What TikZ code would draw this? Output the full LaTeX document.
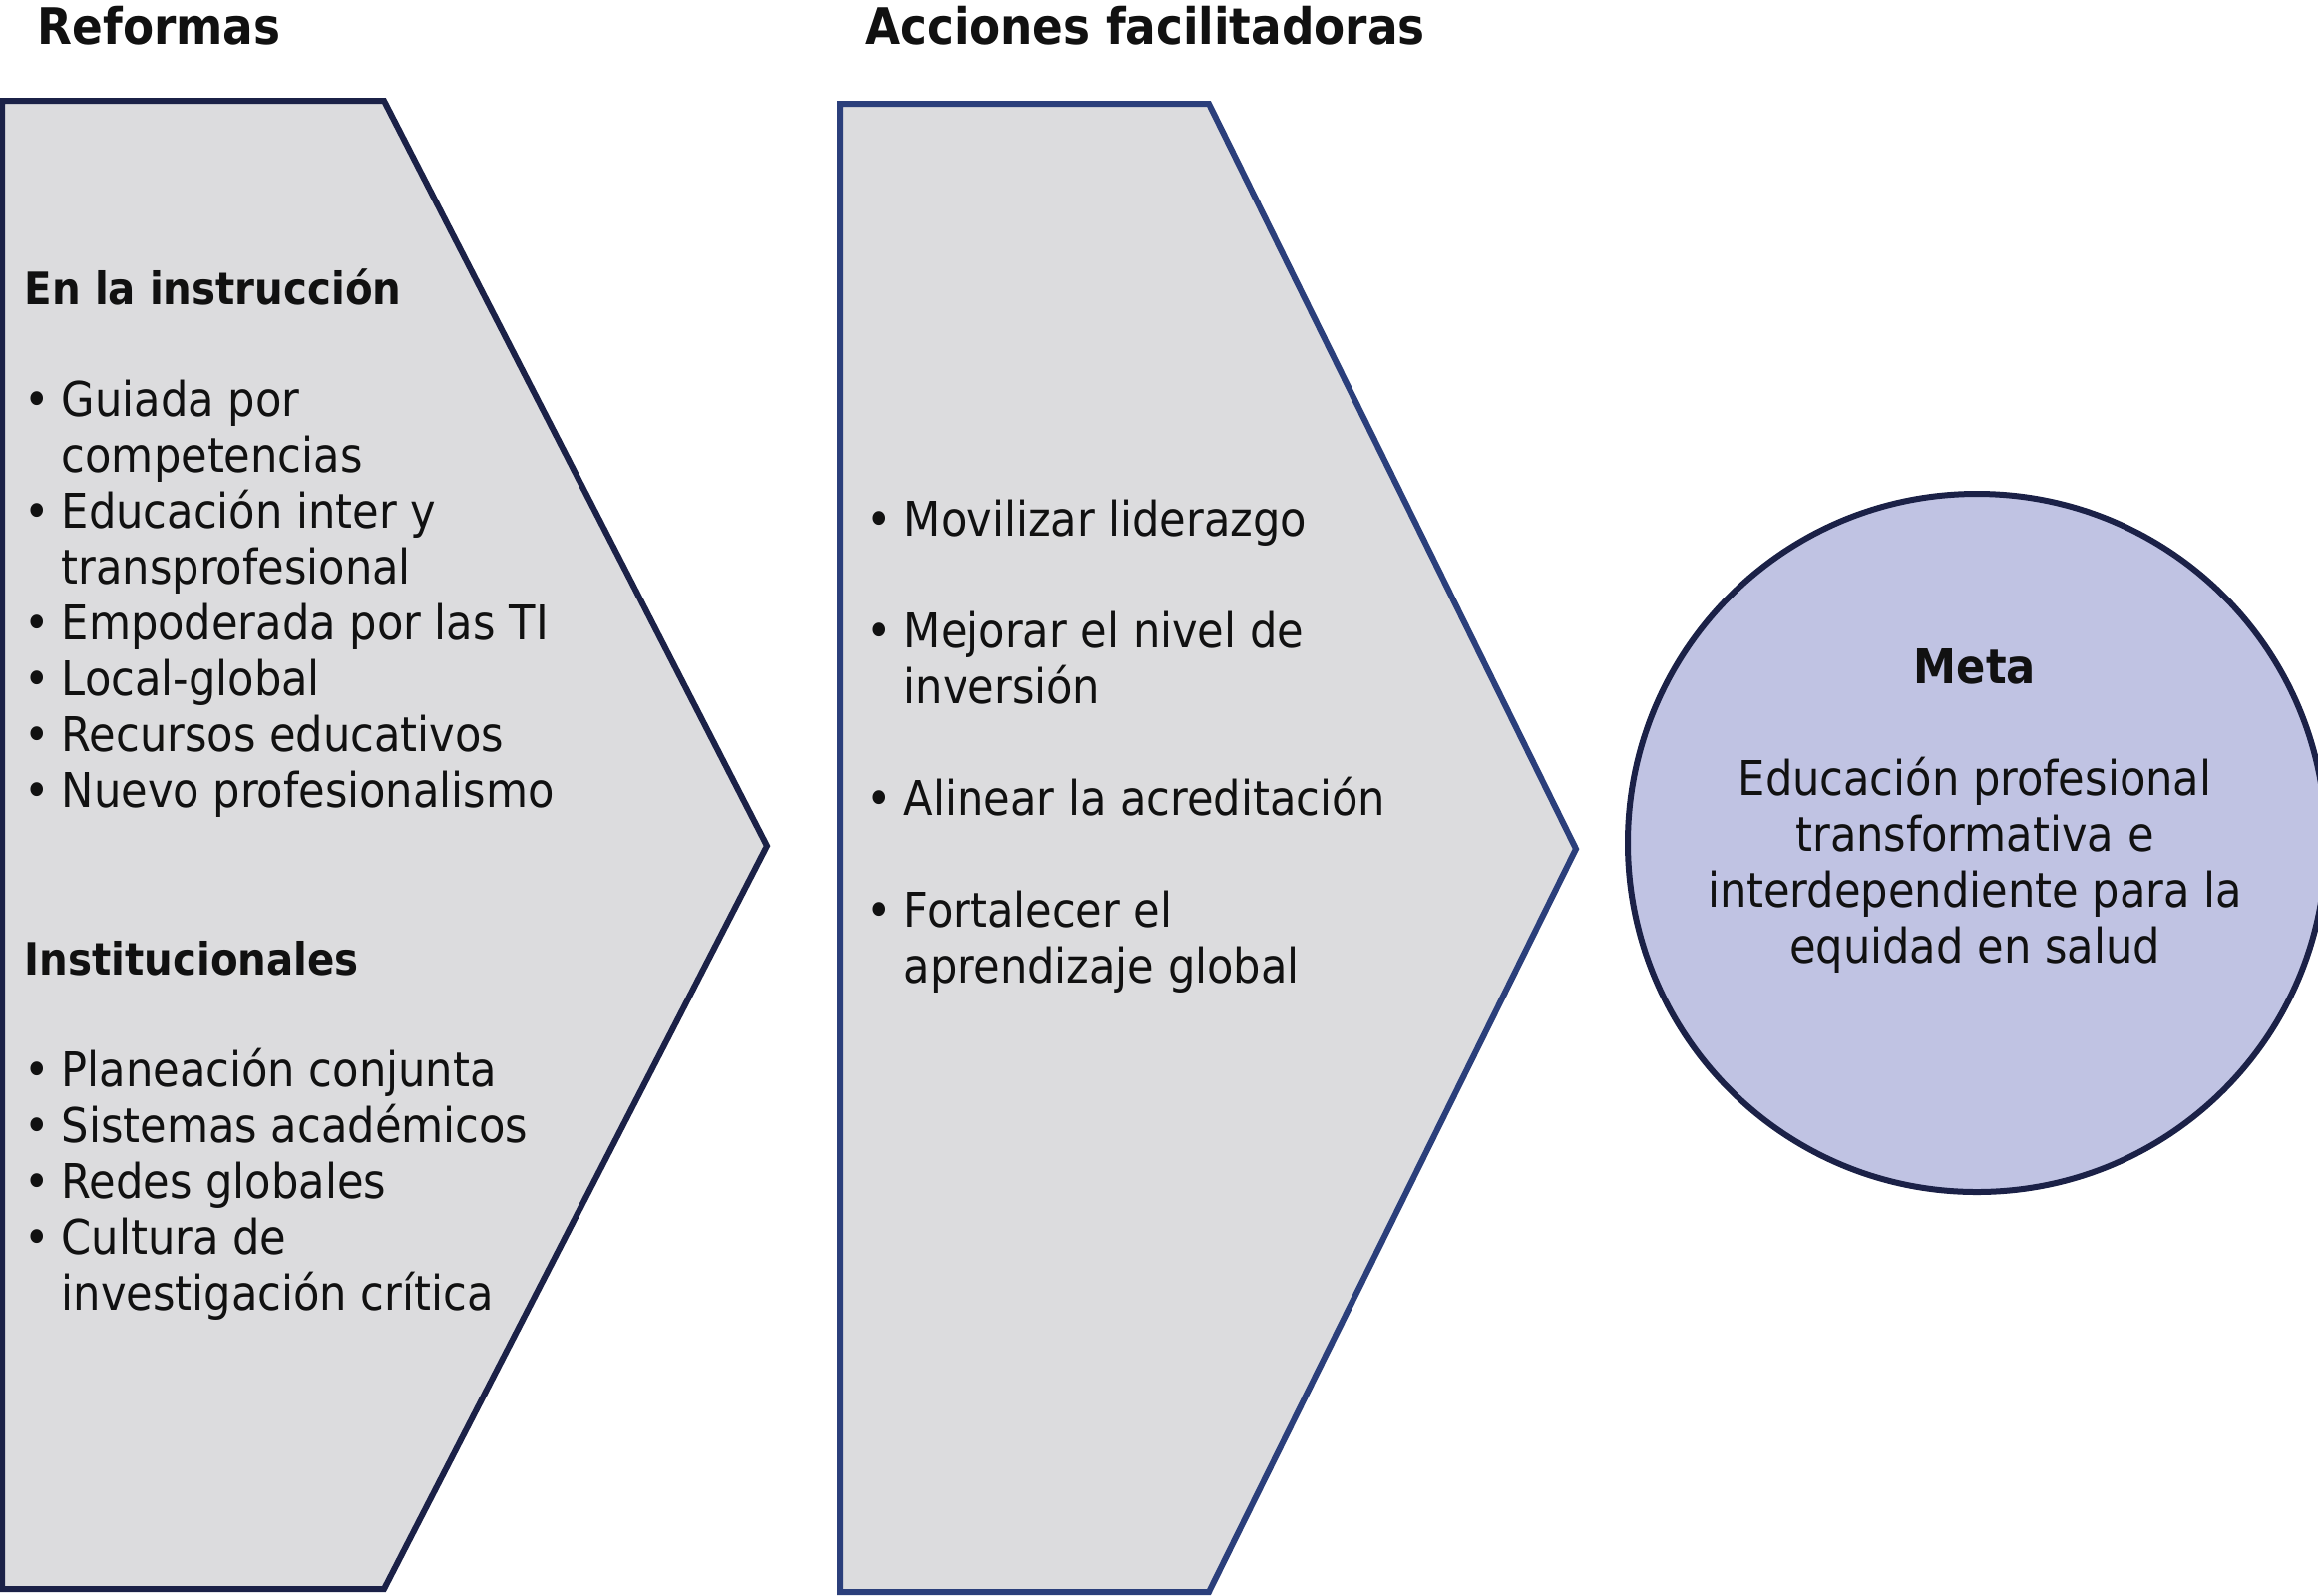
\documentclass[tikz,border=0pt]{standalone}
\usepackage{fontspec}
\setmainfont{DejaVu Sans Condensed}
\usetikzlibrary{positioning}
\definecolor{reformNavy}{RGB}{27,33,71}
\definecolor{actionBlue}{RGB}{43,63,123}
\definecolor{chevGray}{RGB}{220,220,222}
\definecolor{goalLilac}{RGB}{192,195,227}
\definecolor{inkBlack}{RGB}{17,17,17}
\tikzset{
  chevron/.style={fill=chevGray, line width=1.5pt, line join=miter},
  title/.style={anchor=base west, inner sep=0pt, text=inkBlack, font=\fontsize{12.6}{15}\selectfont\bfseries},
  items/.style={anchor=base west, inner sep=0pt, text=inkBlack, font=\fontsize{12}{14}\selectfont},
  goaltext/.style={anchor=base, inner sep=0pt, text=inkBlack, font=\fontsize{12}{14}\selectfont},
  goal/.style={circle, draw=reformNavy, line width=1.5pt, fill=goalLilac, minimum size=175pt, inner sep=0pt}
}
\newcommand{\itm}{\textbullet}
\newcommand{\hd}[1]{\multicolumn{2}{@{}l@{}}{\fontsize{11.2}{14}\selectfont\bfseries #1}}

\begin{document}
\begin{tikzpicture}[x=0.25pt,y=-0.25pt]
  \useasboundingbox (0,0) rectangle (2324,1599);

  % chevrons
  \draw[chevron, draw=reformNavy] (2,101) -- (385,101) -- (769,848) -- (385,1593) -- (2,1593) -- cycle;
  \draw[chevron, draw=actionBlue] (842,104) -- (1212,104) -- (1580,851) -- (1212,1596) -- (842,1596) -- cycle;
  \node[goal] (meta) at (1982,845) {};

  \node[title] (reformas) at (37,44) {Reformas};
  \node[title] (acciones) at (867,44) {Acciones facilitadoras};

  \node[items] (reflist) at (24,305) {\begin{tabular}[t]{@{}p{9.25pt}@{}l@{}}
    \hd{En la instrucción}\\[14pt]
    \itm & Guiada por\\
         & competencias\\
    \itm & Educación inter y\\
         & transprofesional\\
    \itm & Empoderada por las TI\\
    \itm & Local-global\\
    \itm & Recursos educativos\\
    \itm & Nuevo profesionalismo\\[28pt]
    \hd{Institucionales}\\[14pt]
    \itm & Planeación conjunta\\
    \itm & Sistemas académicos\\
    \itm & Redes globales\\
    \itm & Cultura de\\
         & investigación crítica
  \end{tabular}};

  \node[items] (acclist) at (868,537) {\begin{tabular}[t]{@{}p{9.25pt}@{}l@{}}
    \itm & Movilizar liderazgo\\[14pt]
    \itm & Mejorar el nivel de\\
         & inversión\\[14pt]
    \itm & Alinear la acreditación\\[14pt]
    \itm & Fortalecer el\\
         & aprendizaje global
  \end{tabular}};

  \node[goaltext] (metatext) at (1980,685) {\begin{tabular}[t]{@{}c@{}}
    {\fontsize{12}{14}\selectfont\bfseries Meta}\\[14pt]
    Educación profesional\\
    transformativa e\\
    interdependiente para la\\
    equidad en salud
  \end{tabular}};
\end{tikzpicture}
\end{document}
